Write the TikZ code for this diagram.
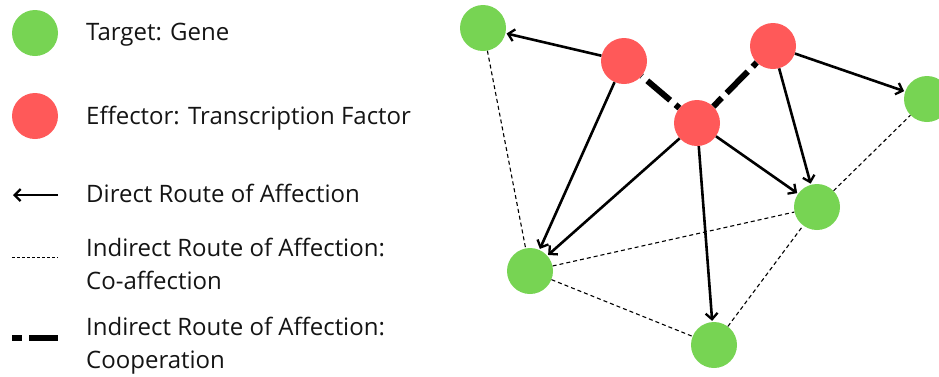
\documentclass[tikz,border=0pt]{standalone}
\usepackage{fontspec}
\setmainfont{Open Sans}
\usetikzlibrary{arrows.meta}
\definecolor{genegreen}{RGB}{119,212,83}
\definecolor{tfred}{RGB}{255,89,89}
\definecolor{ink}{RGB}{20,20,20}
\begin{document}
\begin{tikzpicture}[x=1pt,y=-1pt,
  gene/.style={circle,fill=genegreen,minimum size=46pt,inner sep=0pt},
  tf/.style={circle,fill=tfred,minimum size=46pt,inner sep=0pt},
  direct/.style={line width=2.6pt,-{Straight Barb[length=6pt,width=12pt,line width=2.3pt]},shorten >=1pt},
  coaff/.style={line width=1.1pt,dash pattern=on 4pt off 3pt},
  coop/.style={line width=6pt,dash pattern=on 30pt off 7pt},
  label/.style={anchor=west,font=\fontsize{24}{33}\selectfont,text=ink,inner sep=0pt,align=left}]
\useasboundingbox (0,0) rectangle (939,376);
% legend
\node[gene] (lg) at (35,33) {};
\node[tf] (lr) at (35,116) {};
\node[label] (tg) at (86,35) {Target: Gene};
\node[label] (te) at (86,118) {Effector: Transcription Factor};
\coordinate (da) at (58,195);
\coordinate (db) at (12,195);
\draw[direct] (da) -- (db);
\node[label] (td) at (86,193) {Direct Route of Affection};
\coordinate (ca) at (12,257);
\coordinate (cb) at (58,257);
\draw[coaff,line width=0.9pt,dash pattern=on 3pt off 2pt] (ca) -- (cb);
\node[label] (tc) at (86,264) {Indirect Route of Affection:\\Co-affection};
\coordinate (pa) at (12,338);
\coordinate (pb) at (58,338);
\draw[coop,dash phase=20pt] (pa) -- (pb);
\node[label] (tp) at (86,346) {Indirect Route of Affection:\\Cooperation};
% network
\node[gene] (g1) at (483,28) {};
\node[gene] (g2) at (927,99) {};
\node[gene] (g3) at (817,207) {};
\node[gene] (g4) at (530,271) {};
\node[gene] (g5) at (714,345) {};
\node[tf] (r1) at (624,61) {};
\node[tf] (r2) at (773,46) {};
\node[tf] (r3) at (697,123) {};
% co-affection links
\draw[coaff] (g1) -- (g4);
\draw[coaff] (g4) -- (g3);
\draw[coaff] (g4) -- (g5);
\draw[coaff] (g5) -- (g3);
\draw[coaff] (g3) -- (g2);
% cooperation links
\draw[coop,dash phase=25pt] (r3) -- (r1);
\draw[coop,dash phase=18pt] (r3) -- (r2);
% direct links
\draw[direct] (r1) -- (g1);
\draw[direct] (r1) -- (g4);
\draw[direct] (r3) -- (g4);
\draw[direct] (r3) -- (g5);
\draw[direct] (r3) -- (g3);
\draw[direct] (r2) -- (g3);
\draw[direct] (r2) -- (g2);
\end{tikzpicture}
\end{document}
